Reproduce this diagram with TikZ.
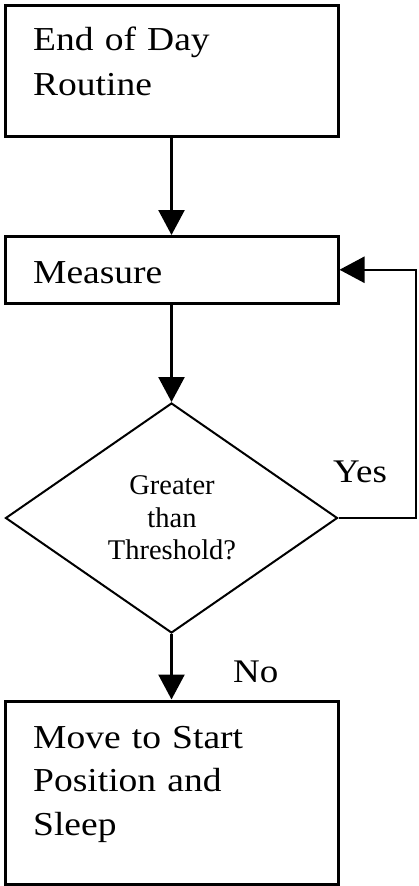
\documentclass[tikz,border=0pt]{standalone}
\usepackage{fontspec}
\setmainfont{Liberation Serif}
\newfontfamily\widefont{Liberation Serif}[FakeStretch=1.12]
\usetikzlibrary{arrows.meta,shapes.geometric}
\begin{document}
\begin{tikzpicture}[x=1pt,y=-1pt,
  box/.style={draw, line width=3pt, minimum width=333pt, inner sep=0pt},
  decision/.style={draw, diamond, line width=2pt, minimum width=332pt, minimum height=230pt, inner sep=0pt},
  flow/.style={line width=2.5pt, -{Triangle[length=25pt,width=26pt]}},
  boxtext/.style={inner sep=0pt, anchor=base west, text width=300pt, align=left, font=\widefont\fontsize{33.5}{45}\selectfont},
  dectext/.style={inner sep=0pt, align=center, font=\fontsize{28.5}{32.5}\selectfont},
  lbl/.style={inner sep=0pt, anchor=base west, font=\widefont\fontsize{33}{40}\selectfont}]
\useasboundingbox (0,0) rectangle (419,886);
\fill[white] (0,0) rectangle (419,886);

\node[box, minimum height=131pt] (b1) at (171.5,70.5) {};
\node[boxtext] (t1) at (33,50) {End of Day\\Routine};

\node[box, minimum height=66.5pt] (b2) at (171.5,269.75) {};
\node[boxtext] (t2) at (33,283) {Measure};

\node[decision] (d) at (171.5,518) {};
\node[dectext] (td) at (172,518) {Greater\\than\\Threshold?};

\node[box, minimum height=183pt] (b3) at (171.5,792.5) {};
\node[boxtext, font=\widefont\fontsize{33.5}{43.5}\selectfont] (t3) at (33,748) {Move to Start\\Position and\\Sleep};

\coordinate (loop) at (416,518);

\draw[flow] (b1.south) -- (b2.north);
\draw[flow] (b2.south) -- (d.north);
\draw[flow] (d.south) -- (b3.north);
\draw[flow, line join=miter] (d.east) -- (loop) |- (b2.east);

\node[lbl] (yes) at (333,482) {Yes};
\node[lbl] (no) at (233,682) {No};
\end{tikzpicture}
\end{document}
